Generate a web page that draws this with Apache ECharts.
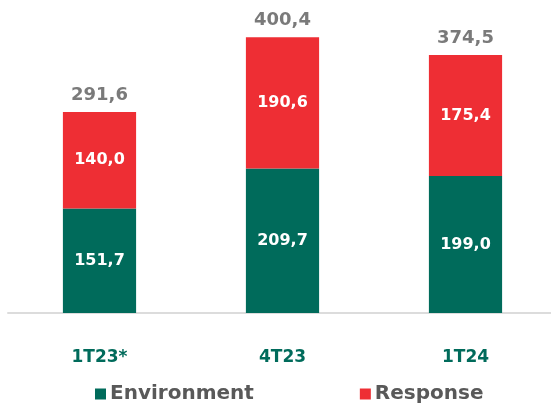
<!DOCTYPE html>
<html>
<head>
<meta charset="utf-8">
<script src="https://cdn.jsdelivr.net/npm/echarts@6/dist/echarts.min.js"></script>
<style>
  html, body { margin: 0; padding: 0; background: #fff; }
  #chart { width: 551px; height: 407px; }
</style>
</head>
<body>
<div id="chart"></div>
<script>
  var categories = ['1T23*', '4T23', '1T24'];
  var environment = [151.7, 209.7, 199.0];
  var response = [140.0, 190.6, 175.4];
  var totals = [291.6, 400.4, 374.5];

  var green = '#006b5b';
  var red = '#ee2e34';
  var font = 'DejaVu Sans';

  function fmt(v) {
    return v.toFixed(1).replace('.', ',');
  }

  var chart = echarts.init(document.getElementById('chart'));

  var option = {
    animation: false,
    grid: { left: 8, width: 549, top: 3, bottom: 94, outerBoundsMode: 'none' },
    legend: {
      bottom: -2,
      left: 90,
      itemWidth: 11,
      itemHeight: 11,
      itemGap: 106,
      icon: 'rect',
      textStyle: { fontFamily: font, fontWeight: 'bold', fontSize: 20, color: '#595959', padding: [0, 0, 0, -1] },
      data: ['Environment', 'Response']
    },
    xAxis: {
      type: 'category',
      data: categories,
      axisLine: { lineStyle: { color: '#dcdcdc', width: 2 } },
      axisTick: { show: false },
      axisLabel: { margin: 36, fontFamily: font, fontWeight: 'bold', fontSize: 17, color: green }
    },
    yAxis: {
      type: 'value',
      min: 0,
      max: 450,
      show: false,
      splitLine: { show: false }
    },
    series: [
      {
        name: 'Environment',
        type: 'bar',
        stack: 'total',
        barWidth: '40%',
        itemStyle: { color: green },
        label: {
          show: true,
          position: 'inside',
          formatter: function (p) { return fmt(p.value); },
          fontFamily: font, fontWeight: 'bold', fontSize: 16, color: '#fff'
        },
        data: environment
      },
      {
        name: 'Response',
        type: 'bar',
        stack: 'total',
        itemStyle: { color: red },
        label: {
          show: true,
          position: 'inside',
          formatter: function (p) { return fmt(p.value); },
          fontFamily: font, fontWeight: 'bold', fontSize: 16, color: '#fff'
        },
        data: response
      },
      {
        name: 'Total',
        type: 'bar',
        stack: 'total',
        itemStyle: { color: 'transparent' },
        label: {
          show: true,
          position: 'insideBottom',
          distance: 8,
          formatter: function (p) { return fmt(totals[p.dataIndex]); },
          fontFamily: font, fontWeight: 'bold', fontSize: 18, color: '#7a7a7a'
        },
        data: [0.001, 0.001, 0.001]
      }
    ]
  };

  chart.setOption(option);
</script>
</body>
</html>
